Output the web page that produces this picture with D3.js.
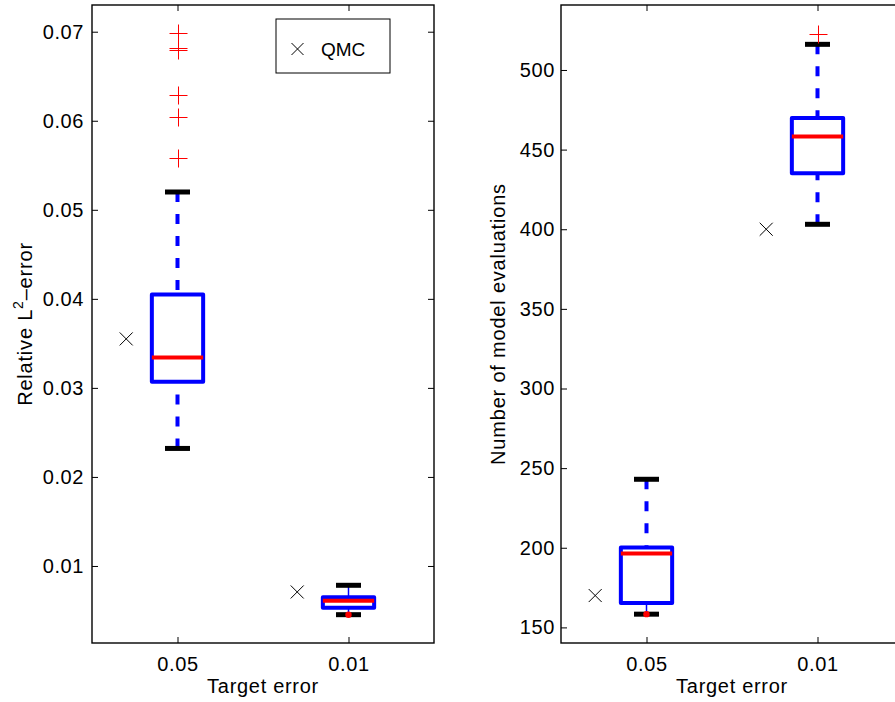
<!DOCTYPE html>
<html><head><meta charset="utf-8">
<script src="https://cdn.jsdelivr.net/npm/d3@7"></script>
<style>
html,body{margin:0;padding:0;background:#fff;}
svg{display:block;font-family:"Liberation Sans",Arial,Helvetica,sans-serif;}
</style></head>
<body>
<svg id="chart" width="895" height="702"></svg>
<script>
// ---------- data ----------
const categories = ["0.05", "0.01"];
const qmcLabel = "QMC";

// Panel 1: relative L2 error
const errQ1     = [0.0307, 0.00531];
const errMedian = [0.0334, 0.00610];
const errQ3     = [0.0405, 0.00648];
const errLow    = [0.0232, 0.00453];
const errHigh   = [0.0520, 0.00783];
const errOutliers = [[0.0698, 0.0682, 0.0679, 0.0629, 0.0604, 0.0558], []];
const errDots   = [null, 0.00453];
const errQMC    = [0.0355, 0.00708];
const errTicks  = [0.01, 0.02, 0.03, 0.04, 0.05, 0.06, 0.07];
const errLimits = [0.00135, 0.0730];

// Panel 2: number of model evaluations
const evQ1     = [165.3, 435.2];
const evMedian = [196.4, 458.2];
const evQ3     = [200.2, 469.9];
const evLow    = [158.3, 403.1];
const evHigh   = [243.0, 516.1];
const evOutliers = [[], [522.6]];
const evDots   = [158.3, null];
const evQMC    = [170, 400];
const evTicks  = [150, 200, 250, 300, 350, 400, 450, 500];
const evLimits = [140.2, 540.8];

const xLimits = [0.5, 2.5];
const qmcOffset = -0.3;

// ---------- drawing ----------
const svg = d3.select("#chart");
const FS = 20;

function panel(cfg) {
  const x = d3.scaleLinear().domain(xLimits).range([cfg.left, cfg.right]);
  const y = d3.scaleLinear().domain(cfg.limits).range([cfg.bottom, cfg.top]);
  const g = svg.append("g");
  const tickLen = 6;

  const fmt = cfg.fmt;
  const yLeft = d3.axisLeft(y).tickValues(cfg.ticks).tickSize(-tickLen).tickPadding(cfg.yPad).tickFormat(fmt);
  const yRight = d3.axisRight(y).tickValues(cfg.ticks).tickSize(-tickLen).tickFormat("");
  const xBottom = d3.axisBottom(x).tickValues([1, 2]).tickSize(-tickLen).tickPadding(14).tickFormat((d) => categories[d - 1]);
  const xTop = d3.axisTop(x).tickValues([1, 2]).tickSize(-tickLen).tickFormat("");

  g.append("g").attr("transform", `translate(${cfg.left},0)`).call(yLeft);
  g.append("g").attr("transform", `translate(${cfg.right},0)`).call(yRight);
  g.append("g").attr("transform", `translate(0,${cfg.bottom})`).call(xBottom);
  g.append("g").attr("transform", `translate(0,${cfg.top})`).call(xTop);
  g.selectAll(".domain").remove();
  g.selectAll(".tick line").attr("stroke", "#000").attr("stroke-width", 1);
  g.selectAll(".tick text").attr("fill", "#000").style("font-size", FS + "px")
    .style("font-family", "inherit").style("letter-spacing", "0.6px");

  // frame
  g.append("rect").attr("x", cfg.left).attr("y", cfg.top)
    .attr("width", cfg.right - cfg.left).attr("height", cfg.bottom - cfg.top)
    .attr("fill", "none").attr("stroke", "#000").attr("stroke-width", 1.4);

  const bw = 0.15, cw = 0.073;
  categories.forEach((c, i) => {
    const cx = i + 1;
    // whiskers
    [[cfg.high[i], cfg.q3[i]], [cfg.low[i], cfg.q1[i]]].forEach(([a, b]) => {
      const len = Math.abs(y(a) - y(b));
      const ln = g.append("line").attr("x1", x(cx)).attr("x2", x(cx))
        .attr("y1", y(a)).attr("y2", y(b)).attr("stroke", "#0000ff");
      if (len > 15) ln.attr("stroke-width", 4).attr("stroke-dasharray", "10,12");
      else ln.attr("stroke-width", 1.5);
    });
    // caps
    [cfg.high[i], cfg.low[i]].forEach((v) => {
      g.append("line").attr("x1", x(cx - cw)).attr("x2", x(cx + cw))
        .attr("y1", y(v)).attr("y2", y(v)).attr("stroke", "#000").attr("stroke-width", 5);
    });
    // box
    g.append("rect").attr("x", x(cx - bw)).attr("y", y(cfg.q3[i]))
      .attr("width", x(cx + bw) - x(cx - bw)).attr("height", y(cfg.q1[i]) - y(cfg.q3[i]))
      .attr("fill", "none").attr("stroke", "#0000ff").attr("stroke-width", 4)
      .attr("stroke-linejoin", "round");
    // median
    g.append("line").attr("x1", x(cx - bw)).attr("x2", x(cx + bw))
      .attr("y1", y(cfg.median[i])).attr("y2", y(cfg.median[i]))
      .attr("stroke", "#ff0000").attr("stroke-width", 4);
    // red dot
    if (cfg.dots[i] != null) {
      g.append("circle").attr("cx", x(cx)).attr("cy", y(cfg.dots[i])).attr("r", 3.2).attr("fill", "#ff0000");
    }
    // outliers
    cfg.outliers[i].forEach((v) => {
      const px = Math.round(x(cx)) + 0.5, py = Math.round(y(v)) + 0.5, s = 9;
      g.append("path").attr("d", `M${px - s},${py}H${px + s}M${px},${py - s}V${py + s}`)
        .attr("stroke", "#ff0000").attr("stroke-width", 1).attr("fill", "none");
    });
    // QMC
    const qx = x(cx + qmcOffset), qy = y(cfg.qmc[i]), s = 6.5;
    g.append("path").attr("d", `M${qx - s},${qy - s}L${qx + s},${qy + s}M${qx - s},${qy + s}L${qx + s},${qy - s}`)
      .attr("stroke", "#000").attr("stroke-width", 1).attr("fill", "none");
  });

  // x label
  g.append("text").attr("x", (x(1) + x(2)) / 2).attr("y", 693)
    .attr("text-anchor", "middle").style("font-size", FS + "px").style("letter-spacing", "0.7px")
    .text("Target error");
  // y label
  const yl = g.append("text").attr("transform", `translate(${cfg.ylabX},${(cfg.top + cfg.bottom) / 2}) rotate(-90)`)
    .attr("text-anchor", "middle").style("font-size", FS + "px").style("letter-spacing", "0.8px");
  cfg.ylabel(yl);
  return {x, y, g};
}

panel({
  left: 92, right: 434, top: 5, bottom: 643, limits: errLimits, ticks: errTicks, yPad: 8,
  fmt: d3.format(".2f"), q1: errQ1, q3: errQ3, median: errMedian, low: errLow, high: errHigh,
  outliers: errOutliers, dots: errDots, qmc: errQMC, ylabX: 32,
  ylabel: (t) => {
    t.append("tspan").text("Relative L");
    t.append("tspan").attr("dy", -9).style("font-size", "14px").text("2");
    t.append("tspan").attr("dy", 9).text("\u2013error");
  }
});

panel({
  left: 561, right: 903, top: 5, bottom: 643, limits: evLimits, ticks: evTicks, yPad: 6,
  fmt: d3.format("d"), q1: evQ1, q3: evQ3, median: evMedian, low: evLow, high: evHigh,
  outliers: evOutliers, dots: evDots, qmc: evQMC, ylabX: 505,
  ylabel: (t) => t.text("Number of model evaluations")
});

// legend (in panel 1)
const lg = svg.append("g");
lg.append("rect").attr("x", 276).attr("y", 19).attr("width", 114).attr("height", 54)
  .attr("fill", "#fff").attr("stroke", "#000").attr("stroke-width", 1);
const lx = 297.5, ly = 49, ls = 6;
lg.append("path").attr("d", `M${lx - ls},${ly - ls}L${lx + ls},${ly + ls}M${lx - ls},${ly + ls}L${lx + ls},${ly - ls}`)
  .attr("stroke", "#000").attr("stroke-width", 1);
lg.append("text").attr("x", 321).attr("y", 56).style("font-size", "19px").text(qmcLabel);
</script>
</body></html>
